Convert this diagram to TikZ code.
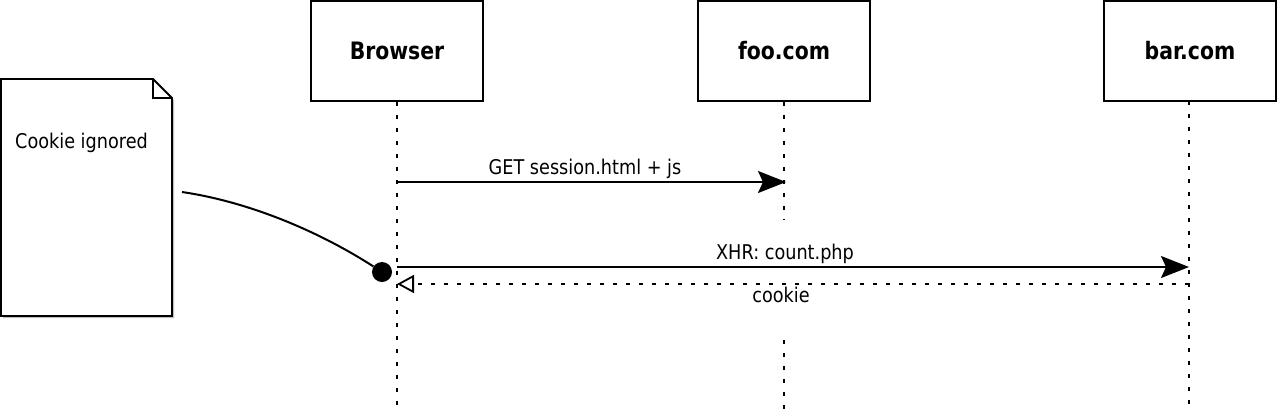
\documentclass[tikz,border=0pt]{standalone}
\usepackage{fontspec}
\setmainfont{DejaVu Sans}[FakeStretch=0.87, BoldFeatures={FakeStretch=0.85}]
\usetikzlibrary{arrows.meta}
\begin{document}
\begin{tikzpicture}[x=1pt,y=-1pt,
  actor/.style={draw, line width=1.8pt, minimum width=172pt, minimum height=100pt, inner sep=0pt, font=\fontsize{24}{28}\selectfont\bfseries},
  life/.style={line width=2pt, dash pattern=on 4pt off 9pt},
  msg/.style={line width=2pt},
  lbl/.style={font=\fontsize{20.3}{24}\selectfont, inner sep=0pt, anchor=base},
  filledtip/.style={-{Stealth[length=28pt, width=22pt, inset=5pt]}},
  opentip/.style={-{Triangle[open, length=17pt, width=18pt, line width=1.8pt]}},
]
\useasboundingbox (0,0) rectangle (1279,416);

% participants
\node[actor] (browser) at (397,51) {Browser};
\node[actor] (foo) at (784,51) {foo.com};
\node[actor] (bar) at (1190,51) {bar.com};

% lifelines
\coordinate (bBot) at (397,410);
\coordinate (fGapA) at (784,220);
\coordinate (fGapB) at (784,340);
\coordinate (fBot) at (784,410);
\coordinate (rBot) at (1189,410);
\draw[life] (browser.south) -- (bBot);
\draw[life] (foo.south) -- (fGapA);
\draw[life] (fGapB) -- (fBot);
\draw[life] (1189,101) -- (rBot);

% messages
\coordinate (b1) at (397,182);
\coordinate (f1) at (786,182);
\draw[msg, filledtip] (b1) -- (f1);
\node[lbl] (getlbl) at (585,174) {GET session.html + js};

\coordinate (b2) at (397,267);
\coordinate (r2) at (1189,267);
\draw[msg, filledtip] (b2) -- (r2);
\node[lbl] (xhrlbl) at (785,259) {XHR: count.php};

\coordinate (b3) at (397,284);
\coordinate (r3) at (1189,284);
\draw[msg, dash pattern=on 4.5pt off 8.5pt, opentip] (r3) -- (b3);
\node[lbl] (cookielbl) at (781,302) {cookie};

% note
\fill[black!25] (3,81) -- (155,81) -- (174,100) -- (174,318) -- (3,318) -- cycle;
\draw[line width=1.8pt, fill=white, line join=miter] (1,79) -- (153,79) -- (172,98) -- (172,316) -- (1,316) -- cycle;
\draw[line width=1.8pt] (153,79) -- (153,98) -- (172,98);
\node[lbl, anchor=base west] (notetext) at (15,148) {Cookie ignored};

% note connector
\coordinate (noteEnd) at (182,192);
\node[circle, fill=black, inner sep=0pt, minimum size=20pt] (dot) at (382,272) {};
\draw[line width=2pt] (noteEnd) .. controls (250,202) and (320,232) .. (dot);
\end{tikzpicture}
\end{document}
